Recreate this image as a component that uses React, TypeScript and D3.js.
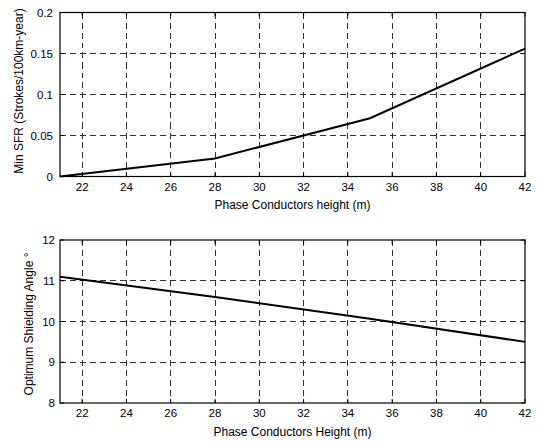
import { useEffect, useRef } from "react";
import * as d3 from "d3";

// conductor height (m)
const heights = [21, 28, 35, 42];
const minSfr = [0, 0.022, 0.071, 0.156];
const shieldAngle = [11.1, 10.6, 10.07, 9.5];

const xTicks = [22, 24, 26, 28, 30, 32, 34, 36, 38, 40, 42];
const sfrTicks = [0, 0.05, 0.1, 0.15, 0.2];
const angleTicks = [8, 9, 10, 11, 12];

const W = 537;
const H = 441;
const FONT = "'Liberation Sans', Arial, sans-serif";

export default function App() {
  const ref = useRef<SVGSVGElement | null>(null);

  useEffect(() => {
    document.body.style.margin = "0";
    if (!ref.current) return;
    const svg = d3.select(ref.current);
    svg.selectAll("*").remove();

    const x = d3.scaleLinear().domain([21, 42]).range([60, 525]);

    const panel = (
      top: number,
      bottom: number,
      domain: [number, number],
      yTicks: number[],
      values: number[],
      xLabel: string,
      yLabel: string,
      yLabelX: number,
      yLabelY: number,
      tickGap: number
    ) => {
      const y = d3.scaleLinear().domain(domain).range([bottom, top]);
      const g = svg.append("g");

      // grid
      g.selectAll("line.vg")
        .data(xTicks.filter(t => t < 42))
        .enter()
        .append("line")
        .attr("x1", d => x(d))
        .attr("x2", d => x(d))
        .attr("y1", top)
        .attr("y2", bottom)
        .attr("stroke", "#333")
        .attr("stroke-width", 1)
        .attr("stroke-dasharray", "6,4")
        .attr("shape-rendering", "crispEdges");
      g.selectAll("line.hg")
        .data(yTicks.filter(t => t > domain[0] && t < domain[1]))
        .enter()
        .append("line")
        .attr("x1", x.range()[0])
        .attr("x2", x.range()[1])
        .attr("y1", d => y(d))
        .attr("y2", d => y(d))
        .attr("stroke", "#333")
        .attr("stroke-width", 1)
        .attr("stroke-dasharray", "6,4")
        .attr("shape-rendering", "crispEdges");

      // tick marks inside
      xTicks.forEach(t => {
        g.append("line").attr("x1", x(t)).attr("x2", x(t)).attr("y1", bottom).attr("y2", bottom - 4).attr("stroke", "#000");
        g.append("line").attr("x1", x(t)).attr("x2", x(t)).attr("y1", top).attr("y2", top + 4).attr("stroke", "#000");
      });
      yTicks.forEach(t => {
        g.append("line").attr("x1", x.range()[0]).attr("x2", x.range()[0] + 4).attr("y1", y(t)).attr("y2", y(t)).attr("stroke", "#000");
        g.append("line").attr("x1", x.range()[1]).attr("x2", x.range()[1] - 4).attr("y1", y(t)).attr("y2", y(t)).attr("stroke", "#000");
      });

      // box
      g.append("rect")
        .attr("x", x.range()[0])
        .attr("y", top)
        .attr("width", x.range()[1] - x.range()[0])
        .attr("height", bottom - top)
        .attr("fill", "none")
        .attr("stroke", "#000")
        .attr("stroke-width", 1.2);

      // data line
      const line = d3.line<number>()
        .x((_, i) => x(heights[i]))
        .y(d => y(d));
      g.append("path")
        .datum(values)
        .attr("d", line)
        .attr("fill", "none")
        .attr("stroke", "#000")
        .attr("stroke-width", 2);

      // tick labels
      g.selectAll("text.xt")
        .data(xTicks)
        .enter()
        .append("text")
        .attr("x", d => x(d))
        .attr("y", bottom + 14)
        .attr("text-anchor", "middle")
        .attr("font-family", FONT)
        .attr("font-size", 11.5)
        .text(d => String(d));
      g.selectAll("text.yt")
        .data(yTicks)
        .enter()
        .append("text")
        .attr("x", x.range()[0] - tickGap)
        .attr("y", d => y(d) + 4)
        .attr("text-anchor", "end")
        .attr("font-family", FONT)
        .attr("font-size", 11.5)
        .text(d => String(d));

      // axis labels
      g.append("text")
        .attr("x", (x.range()[0] + x.range()[1]) / 2)
        .attr("y", bottom + 32.5)
        .attr("text-anchor", "middle")
        .attr("font-family", FONT)
        .attr("font-size", 12)
        .text(xLabel);
      g.append("text")
        .attr("transform", `translate(${yLabelX},${yLabelY}) rotate(-90)`)
        .attr("text-anchor", "middle")
        .attr("font-family", FONT)
        .attr("font-size", 12)
        .text(yLabel);
    };

    panel(12.5, 176.5, [0, 0.2], sfrTicks, minSfr,
      "Phase Conductors height (m)", "Min SFR (Strokes/100km-year)", 23, 91, 7);
    panel(240, 403, [8, 12], angleTicks, shieldAngle,
      "Phase Conductors Height (m)", "Optimum Shielding Angle \u00B0", 33, 324, 5);
  }, []);

  return <svg ref={ref} width={W} height={H} style={{ display: "block", background: "#fff" }} />;
}
